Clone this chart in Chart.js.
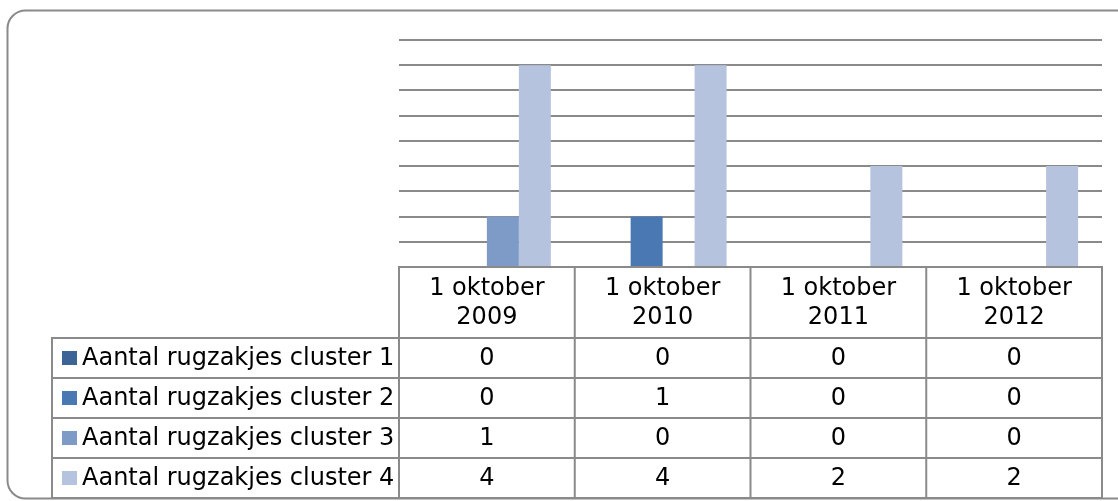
<!DOCTYPE html>
<html>
<head>
<meta charset="utf-8">
<script src="https://cdn.jsdelivr.net/npm/chart.js@4"></script>
<style>
    body { margin: 0; background: #fff; }
    #wrap { width: 1118px; height: 501px; }
</style>
</head>
<body>
<div id="wrap"><canvas id="chart" width="1118" height="501"></canvas></div>
<script>
// data
const categories = [['1 oktober', '2009'], ['1 oktober', '2010'], ['1 oktober', '2011'], ['1 oktober', '2012']];
const seriesNames = ['Aantal rugzakjes cluster 1', 'Aantal rugzakjes cluster 2', 'Aantal rugzakjes cluster 3', 'Aantal rugzakjes cluster 4'];
const cluster1 = [0, 0, 0, 0];
const cluster2 = [0, 1, 0, 0];
const cluster3 = [1, 0, 0, 0];
const cluster4 = [4, 4, 2, 2];
const colors = ['#3c6497', '#4a78b2', '#7e9bc8', '#b5c3de'];

const FONT = '"DejaVu Sans", Verdana, sans-serif';
const LINE = '#8a8a8a';

// tabel onder de grafiek + rand
const dataTable = {
    id: 'dataTable',
    afterDraw(chart) {
        const ctx = chart.ctx;
        const x = chart.scales.x;
        const area = chart.chartArea;
        const colW = (area.right - area.left) / categories.length;
        const headH = 71, rowH = 40;
        const top = area.bottom;
        const rowsTop = top + headH;
        const legendLeft = 52;

        ctx.save();
        ctx.strokeStyle = LINE;
        ctx.lineWidth = 2;

        // kader header
        ctx.strokeRect(area.left, top, area.right - area.left, headH);
        // rijen
        chart.data.datasets.forEach((ds, r) => {
            const y = rowsTop + r * rowH;
            ctx.strokeRect(legendLeft, y, area.right - legendLeft, rowH);
        });
        // kolomlijnen
        for (let i = 0; i <= categories.length; i++) {
            const cx = area.left + i * colW;
            ctx.beginPath();
            ctx.moveTo(cx, top);
            ctx.lineTo(cx, rowsTop + chart.data.datasets.length * rowH);
            ctx.stroke();
        }

        ctx.fillStyle = '#000';
        ctx.font = '24px ' + FONT;
        ctx.textAlign = 'center';
        ctx.textBaseline = 'middle';
        categories.forEach((lab, i) => {
            const cx = x.getPixelForValue(i);
            lab.forEach((line, j) => {
                ctx.fillText(line, cx, top + 22 + j * 29);
            });
        });

        chart.data.datasets.forEach((ds, r) => {
            const cy = rowsTop + r * rowH + rowH / 2 + 1;
            ctx.fillStyle = ds.backgroundColor;
            ctx.fillRect(62, cy - 8, 15, 14);
            ctx.fillStyle = '#000';
            ctx.textAlign = 'left';
            ctx.fillText(ds.label, 82, cy);
            ctx.textAlign = 'center';
            ds.data.forEach((v, i) => {
                ctx.fillText(String(v), x.getPixelForValue(i), cy);
            });
        });

        // afgeronde rand
        ctx.strokeStyle = '#8a8a8a';
        ctx.lineWidth = 2;
        ctx.beginPath();
        ctx.roundRect(7.5, 10.5, 1130, 488, 18);
        ctx.stroke();
        ctx.restore();
    }
};

new Chart(document.getElementById('chart'), {
    type: 'bar',
    data: {
        labels: categories.map(c => c.join(' ')),
        datasets: [cluster1, cluster2, cluster3, cluster4].map((d, i) => ({
            label: seriesNames[i],
            data: d,
            backgroundColor: colors[i],
            borderWidth: 0
        }))
    },
    options: {
        responsive: false,
        animation: false,
        events: [],
        layout: { padding: { left: 399, right: 16, top: 40, bottom: 234 } },
        datasets: { bar: { categoryPercentage: 0.728, barPercentage: 1 } },
        plugins: { legend: { display: false }, tooltip: { enabled: false } },
        scales: {
            x: { display: false },
            y: {
                min: 0,
                max: 4.5,
                ticks: { display: false, stepSize: 0.5 },
                border: { display: false },
                grid: { color: LINE, lineWidth: 2, drawTicks: false }
            }
        }
    },
    plugins: [dataTable]
});
</script>
</body>
</html>
